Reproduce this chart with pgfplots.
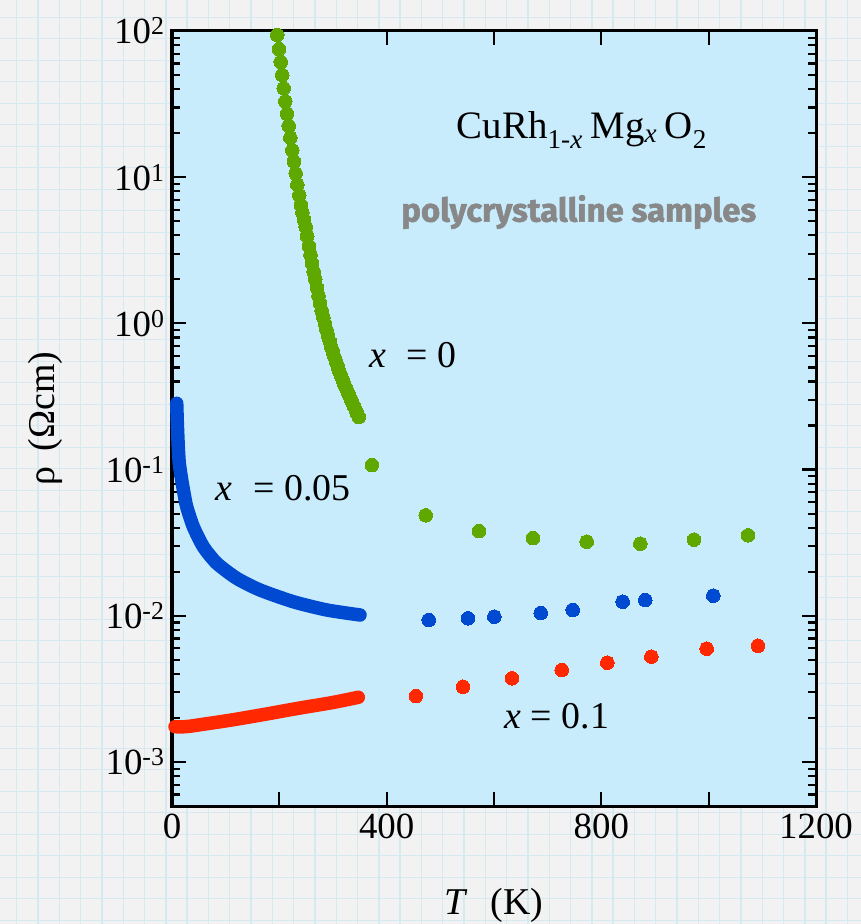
\documentclass[border=0pt]{standalone}
\usepackage{pgfplots}
\pgfplotsset{compat=1.18}
\usepackage{fontspec}
\setmainfont{Liberation Serif}
\newfontfamily\notefont{Fira Sans}[BoldFeatures={FakeBold=1.6}]

\definecolor{paper}{RGB}{242,242,242}
\definecolor{paperline}{RGB}{214,232,240}
\definecolor{panel}{RGB}{201,236,253}
\definecolor{cgreen}{RGB}{94,168,0}
\definecolor{cblue}{RGB}{0,74,210}
\definecolor{cred}{RGB}{255,40,0}
\definecolor{notegray}{RGB}{136,136,136}

% x = 0: low-temperature run (dense) and high-temperature run
\pgfplotstableread{
T rho
196.2 94.0
199.4 75.3
202.5 61.4
205.5 50.0
208.1 40.6
211.1 33.0
214.3 27.2
217.5 22.4
220.4 18.6
224.2 15.3
227.3 12.8
230.5 10.6
233.5 8.89
237.2 7.52
240 6.46
243 5.75
246 5.13
249 4.57
252 3.94
255 3.39
258 2.95
261 2.57
264 2.26
267 2.00
270 1.76
273 1.55
276 1.37
279 1.22
282 1.10
285 0.993
288 0.902
291 0.822
294 0.752
297 0.689
300 0.634
303 0.586
306 0.543
309 0.504
312 0.470
315 0.439
318 0.410
321 0.385
324 0.363
327 0.343
330 0.324
333 0.305
336 0.288
339 0.272
342 0.257
345 0.243
348 0.229
}\greenlow
\pgfplotstableread{
T rho
372.6 0.1075
472.7 0.0487
572 0.0380
672.7 0.0340
772.7 0.0321
872.6 0.0311
972.7 0.0332
1073.3 0.0355
}\greenhigh

% x = 0.05
\pgfplotstableread{
T rho
8.8 0.284
9.9 0.2075
11.7 0.143
13.6 0.1104
18.1 0.0849
22.4 0.0689
27.4 0.0557
39.7 0.0407
58.3 0.0297
83.3 0.0229
120.6 0.01805
164 0.01501
226 0.01248
288.3 0.01096
350.3 0.01013
}\bluelow
\pgfplotstableread{
T rho
478.3 0.00936
551.5 0.00961
600.6 0.00986
687 0.01045
746.6 0.01096
839.8 0.01248
881.9 0.01282
1008.6 0.01373
}\bluehigh

% x = 0.1
\pgfplotstableread{
T rho
5.6 0.001743
20 0.00174
35 0.00176
49 0.001791
111.2 0.001938
173.3 0.002120
235.3 0.002330
297.6 0.002544
347.2 0.002770
}\redlow
\pgfplotstableread{
T rho
454.6 0.002828
542.2 0.003273
633.5 0.003737
726.1 0.004258
811.1 0.004777
893.1 0.005254
996.3 0.005957
1091.9 0.006246
}\redhigh

\pgfplotsset{
  dots/.style={color=#1, only marks, mark=*, mark size=6.8bp,
    mark options={draw=#1, fill=#1, line width=0pt}},
  band/.style={color=#1, line width=13.5bp, line cap=round, line join=round,
    smooth, tension=0.4, mark=none},
}
\tikzset{tk/.style={black, line width=2.2bp}}

\begin{document}
\begin{tikzpicture}
% graph-paper backdrop
\fill[paper] (0bp,0bp) rectangle (861bp,924bp);
\begin{scope}
\clip (0bp,0bp) rectangle (861bp,924bp);
\foreach \i in {0,...,40} \draw[paperline, line width=1.4bp] ({(16.7+21.3*\i)*1bp},0bp) -- ++(0bp,924bp);
\foreach \j in {0,...,43} \draw[paperline, line width=1.4bp] (0bp,{(924-17.3-21.5*\j)*1bp}) -- ++(861bp,0bp);
\end{scope}

\begin{axis}[
  at={(172bp,118bp)}, anchor=south west,
  scale only axis, width=644bp, height=775bp,
  xmin=0, xmax=1200,
  ymode=log, ymin=5e-4, ymax=100,
  clip=false,
  axis background/.style={fill=panel},
  axis line style={line width=3bp},
  xtick={0,200,...,1200},
  xticklabels={0,,400,,800,,1200},
  ytick={1e-3,1e-2,1e-1,1,10,100},
  yticklabels={10\textsuperscript{-3},10\textsuperscript{-2},10\textsuperscript{-1},10\textsuperscript{0},10\textsuperscript{1},10\textsuperscript{2}},
  tick align=inside,
  major tick length=14bp,
  tick style={black, line width=2.2bp},
  tick label style={font=\fontsize{37}{44}\selectfont},
  xticklabel style={yshift=-4bp},
  yticklabel style={xshift=-4bp},
  xlabel={\textit{T}\hspace{0.6em}(K)},
  ylabel={ρ\hspace{0.4em}(Ωcm)},
  label style={font=\fontsize{38}{44}\selectfont},
  xlabel style={at={(axis description cs:0.5,-0.128)}, anchor=center},
  ylabel style={at={(axis description cs:-0.197,0.5)}, anchor=center},
]
% inward tick marks on all four sides
\pgfplotsinvokeforeach{200,400,600,800,1000}{
  \draw[tk] (axis cs:#1,5e-4) -- ++(0bp,14bp);
  \draw[tk] (axis cs:#1,100) -- ++(0bp,-14bp);
}
\pgfplotsinvokeforeach{1e-3,1e-2,0.1,1,10}{
  \draw[tk] (axis cs:0,#1) -- ++(14bp,0bp);
  \draw[tk] (axis cs:1200,#1) -- ++(-14bp,0bp);
}
\pgfplotsinvokeforeach{6e-4,7e-4,8e-4,9e-4,
    2e-3,3e-3,4e-3,5e-3,6e-3,7e-3,8e-3,9e-3,
    2e-2,3e-2,4e-2,5e-2,6e-2,7e-2,8e-2,9e-2,
    0.2,0.3,0.4,0.5,0.6,0.7,0.8,0.9,
    2,3,4,5,6,7,8,9,
    20,30,40,50,60,70,80,90}{
  \draw[tk] (axis cs:0,#1) -- ++(8bp,0bp);
  \draw[tk] (axis cs:1200,#1) -- ++(-8bp,0bp);
}

\addplot[dots=cgreen] table[x=T, y=rho] {\greenlow};
\addplot[dots=cgreen] table[x=T, y=rho] {\greenhigh};
\addplot[band=cblue] table[x=T, y=rho] {\bluelow};
\addplot[dots=cblue] table[x=T, y=rho] {\bluehigh};
\addplot[band=cred] table[x=T, y=rho] {\redlow};
\addplot[dots=cred] table[x=T, y=rho] {\redhigh};

\node[font=\fontsize{39}{46}\selectfont] at (axis cs:764,21) {CuRh\textsubscript{1-\textit{x}}\hspace{0.2em}Mg\textsubscript{\textit{x}}\hspace{0.2em}O\textsubscript{2}};
\node[font=\notefont\bfseries\fontsize{33}{38}\selectfont, text=notegray] at (axis cs:758,5.78) {polycrystalline samples};
\node[font=\fontsize{38}{44}\selectfont] at (axis cs:449,0.608) {\textit{x}\hspace{0.55em}=\hspace{0.25em}0};
\node[font=\fontsize{38}{44}\selectfont] at (axis cs:207,0.0748) {\textit{x}\hspace{0.55em}=\hspace{0.25em}0.05};
\node[font=\fontsize{38}{44}\selectfont] at (axis cs:717,0.00207) {\textit{x}\hspace{0.25em}=\hspace{0.25em}0.1};
\end{axis}
\pgfresetboundingbox
\path[use as bounding box] (0bp,0bp) rectangle (861bp,924bp);
\end{tikzpicture}
\end{document}
